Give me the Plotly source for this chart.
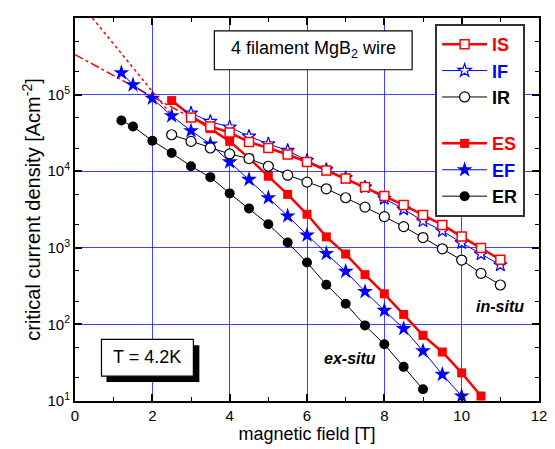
import plotly.graph_objects as go

# ---------------- data ----------------
B_IS = [3, 3.5, 4, 4.5, 5, 5.5, 6, 6.5, 7, 7.5, 8, 8.5, 9, 9.5, 10, 10.5, 11]
J_IS = [5.02e4, 3.84e4, 3.2e4, 2.4e4, 2.01e4, 1.65e4, 1.32e4, 1.02e4, 8.03e3, 6.2e3,
        4.73e3, 3.61e3, 2.68e3, 1.99e3, 1.4e3, 991, 698]

B_IF = [3, 3.5, 4, 4.5, 5, 5.5, 6, 6.5, 7, 7.5, 8, 8.5, 9, 9.5, 10, 10.5, 11]
J_IF = [5.71e4, 4.45e4, 3.76e4, 2.85e4, 2.27e4, 1.86e4, 1.38e4, 1.05e4, 8.18e3, 6.2e3,
        4.4e3, 3.18e3, 2.24e3, 1.66e3, 1.16e3, 828, 596]

B_IR = [2.5, 3, 3.5, 4, 4.5, 5, 5.5, 6, 6.5, 7, 7.5, 8, 8.5, 9, 9.5, 10, 10.5, 11]
J_IR = [2.99e4, 2.45e4, 2.01e4, 1.68e4, 1.46e4, 1.16e4, 8.87e3, 7.2e3, 5.89e3, 4.5e3,
        3.4e3, 2.55e3, 1.89e3, 1.36e3, 970, 692, 464, 327]

B_ES = [2.5, 3, 3.5, 4, 4.5, 5, 5.5, 6, 6.5, 7, 7.5, 8, 8.5, 9, 9.5, 10, 10.5]
J_ES = [8.36e4, 5.3e4, 3.6e4, 2.45e4, 1.48e4, 8.6e3, 4.98e3, 2.74e3, 1.39e3, 829, 446,
        251, 135, 72, 43.6, 23.3, 11.6]

B_EF = [1.2, 1.5, 2, 2.5, 3, 3.5, 4, 4.5, 5, 5.5, 6, 6.5, 7, 7.5, 8, 8.5, 9, 9.5, 10]
J_EF = [1.93e5, 1.34e5, 8.96e4, 5.28e4, 3.37e4, 2.26e4, 1.32e4, 7.8e3, 4.5e3, 2.6e3,
        1.46e3, 843, 492, 268, 152, 88, 45, 22.2, 11.6]

B_ER = [1.2, 1.5, 2, 2.5, 3, 3.5, 4, 4.5, 5, 5.5, 6, 6.5, 7, 7.5, 8, 8.5, 9]
J_ER = [4.59e4, 3.84e4, 2.5e4, 1.73e4, 1.16e4, 8.36e3, 5.13e3, 3.27e3, 2.03e3, 1.17e3,
        644, 330, 186, 97, 55, 27.9, 14.2]

# extrapolations (red dash-dot and dotted)
B_fit_dashdot = [0, 3]
J_fit_dashdot = [3.33e5, 5.0e4]
B_fit_dot = [0.45, 2.5]
J_fit_dot = [1.0e6, 5.4e4]

x_ticks = [0, 2, 4, 6, 8, 10, 12]
y_tickvals = [1e1, 1e2, 1e3, 1e4, 1e5, 1e6]
y_ticktext = ["10<sup>1</sup>", "10<sup>2</sup>", "10<sup>3</sup>", "10<sup>4</sup>",
              "10<sup>5</sup>", "10<sup>6</sup>"]

RED = "#ff0000"
BLUE = "#0000ff"
BLACK = "#000000"
FONT = "Liberation Sans"

fig = go.Figure()

fig.add_trace(go.Scatter(x=B_fit_dashdot, y=J_fit_dashdot, mode="lines",
                         line=dict(color=RED, width=1.5, dash="dashdot"),
                         showlegend=False, hoverinfo="skip"))
fig.add_trace(go.Scatter(x=B_fit_dot, y=J_fit_dot, mode="lines",
                         line=dict(color=RED, width=1.5, dash="dot"),
                         showlegend=False, hoverinfo="skip"))


def lab(t, c):
    return "<b><span style='color:%s'>%s</span></b>" % (c, t)


# ex-situ
fig.add_trace(go.Scatter(x=B_ER, y=J_ER, mode="lines+markers", name=lab("ER", BLACK),
                         legendgroup="e", legendrank=6,
                         line=dict(color=BLACK, width=1),
                         marker=dict(symbol="circle", size=10, color=BLACK)))
fig.add_trace(go.Scatter(x=B_EF, y=J_EF, mode="lines+markers", name=lab("EF", BLUE),
                         legendgroup="e", legendrank=5,
                         line=dict(color=BLUE, width=1),
                         marker=dict(symbol="star", size=12, color=BLUE)))
fig.add_trace(go.Scatter(x=B_ES, y=J_ES, mode="lines+markers", name=lab("ES", RED),
                         legendgroup="e", legendrank=4,
                         line=dict(color=RED, width=2.5),
                         marker=dict(symbol="square", size=9, color=RED)))
# in-situ
fig.add_trace(go.Scatter(x=B_IR, y=J_IR, mode="lines+markers", name=lab("IR", BLACK),
                         legendgroup="i", legendrank=3,
                         line=dict(color=BLACK, width=1),
                         marker=dict(symbol="circle", size=10, color="white",
                                     line=dict(width=1.2, color=BLACK))))
fig.add_trace(go.Scatter(x=B_IF, y=J_IF, mode="lines+markers", name=lab("IF", BLUE),
                         legendgroup="i", legendrank=2,
                         line=dict(color=BLUE, width=1),
                         marker=dict(symbol="star", size=10, color="white",
                                     line=dict(width=1.2, color=BLUE))))
fig.add_trace(go.Scatter(x=B_IS, y=J_IS, mode="lines+markers", name=lab("IS", RED),
                         legendgroup="i", legendrank=1,
                         line=dict(color=RED, width=2.5),
                         marker=dict(symbol="square", size=9, color="white",
                                     line=dict(width=1.5, color=RED))))

GRID = "rgba(0,0,255,0.75)"

fig.update_xaxes(type="linear", range=[0, 12], tickvals=x_ticks,
                 ticks="inside", ticklen=7, tickwidth=1.5, tickcolor=BLACK,
                 minor=dict(dtick=1, ticks="inside", ticklen=4, tickwidth=1, tickcolor=BLACK,
                            showgrid=False),
                 showline=True, linewidth=2, linecolor=BLACK, mirror="allticks",
                 showgrid=True, gridcolor=GRID, gridwidth=1.3, zeroline=False,
                 title=dict(text="magnetic field [T]", font=dict(size=18, family=FONT), standoff=4),
                 tickfont=dict(size=15, family=FONT, color=BLACK))
fig.update_yaxes(type="log", range=[1, 6], tickvals=y_tickvals, ticktext=y_ticktext,
                 ticks="inside", ticklen=7, tickwidth=1.5, tickcolor=BLACK,
                 minor=dict(ticks="inside", ticklen=4, tickwidth=1, tickcolor=BLACK,
                            showgrid=False),
                 showline=True, linewidth=2, linecolor=BLACK, mirror="allticks",
                 showgrid=True, gridcolor=GRID, gridwidth=1.3, zeroline=False,
                 title=dict(text="critical current density [Acm<sup>-2</sup>]",
                            font=dict(size=20, family=FONT), standoff=1),
                 tickfont=dict(size=15, family=FONT, color=BLACK))

# plot-area edges in the reference picture (window pixels); the page body adds 8 px
OFF = 8
X0, X1, Y0, Y1 = 74.5, 539.0, 16.0, 401.0


def px(x):
    return (x - X0) / (X1 - X0)


def py(y):
    return (Y1 - y) / (Y1 - Y0)


shapes = [
    dict(type="rect", xref="paper", yref="paper", x0=px(214), x1=px(412), y0=py(68), y1=py(29),
         line=dict(color=BLACK, width=1.2), fillcolor="white", layer="above"),
    dict(type="rect", xref="paper", yref="paper", x0=px(106), x1=px(199), y0=py(382), y1=py(345),
         line=dict(width=0), fillcolor=BLACK, layer="above"),
    dict(type="rect", xref="paper", yref="paper", x0=px(101), x1=px(193), y0=py(376), y1=py(339),
         line=dict(color=BLACK, width=1.2), fillcolor="white", layer="above"),
]

annotations = [
    dict(text="4 filament MgB<sub>2</sub> wire", xref="paper", yref="paper",
         x=px(313), y=py(48), xanchor="center", yanchor="middle", showarrow=False,
         font=dict(size=18, family=FONT, color=BLACK)),
    dict(text="T = 4.2K", xref="paper", yref="paper",
         x=px(147), y=py(357), xanchor="center", yanchor="middle", showarrow=False,
         font=dict(size=18, family=FONT, color=BLACK)),
    dict(text="<b><i>in-situ</i></b>", xref="paper", yref="paper",
         x=px(500), y=py(306), xanchor="center", yanchor="middle", showarrow=False,
         font=dict(size=16, family=FONT, color=BLACK)),
    dict(text="<b><i>ex-situ</i></b>", xref="paper", yref="paper",
         x=px(350), y=py(358), xanchor="center", yanchor="middle", showarrow=False,
         font=dict(size=16, family=FONT, color=BLACK)),
]

fig.update_layout(
    width=555 - OFF, height=449 - OFF,
    margin=dict(l=X0 - OFF, r=555 - X1, t=Y0 - OFF, b=449 - Y1),
    paper_bgcolor="white", plot_bgcolor="white",
    font=dict(family=FONT, color=BLACK),
    shapes=shapes, annotations=annotations,
    legend=dict(x=px(435), y=py(22), xanchor="left", yanchor="top",
                bgcolor="white", bordercolor="#333333", borderwidth=2,
                font=dict(size=18, family=FONT), traceorder="grouped",
                tracegroupgap=20, itemwidth=45),
)

fig.write_html("out.html")
